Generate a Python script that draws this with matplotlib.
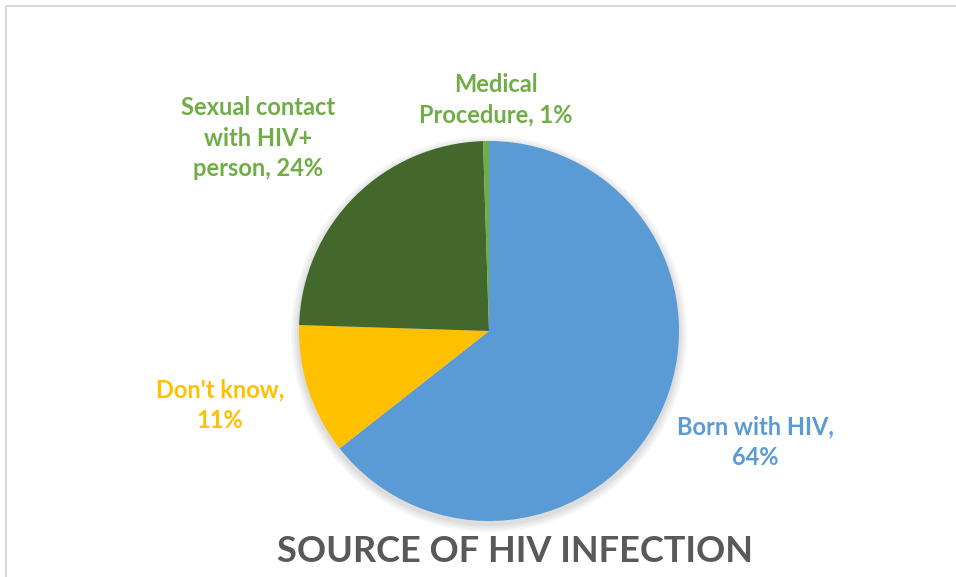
#!/usr/bin/env python

import matplotlib.pyplot as plt
from matplotlib.patches import Circle

# slice order: clockwise from 12 o'clock
sources = ["Born with HIV", "Don't know", "Sexual contact\nwith HIV+\nperson", "Medical\nProcedure"]
shares = [64.4, 11.1, 24.0, 0.5]
shown_pct = ["64%", "11%", "24%", "1%"]
slice_colors = ["#5B9BD5", "#FFC000", "#43682B", "#70AD47"]
label_colors = ["#5B9BD5", "#FFC000", "#70AD47", "#70AD47"]

W, H = 956, 577

plt.rcParams["font.family"] = ["Lato", "DejaVu Sans"]

fig = plt.figure(figsize=(W / 100, H / 100), dpi=100)
ax = fig.add_axes([0, 0, 1, 1])

cx, cy, r = 489, H - 331, 190

# soft shadow behind the pie
for i, a in enumerate([0.03, 0.03, 0.03, 0.04]):
    ax.add_patch(Circle((cx, cy - 3), r + 8 - i * 2, color="#000000", alpha=a, lw=0, zorder=0))

ax.pie(
    shares,
    colors=slice_colors,
    startangle=90,
    counterclock=False,
    center=(cx, cy),
    radius=r,
    wedgeprops={"linewidth": 0},
    frame=True,
)

# data labels (positions in pixels from top-left)
label_pos = [(755, 442), (220, 405), (258, 138), (496, 100)]
for name, pct, col, (x, y) in zip(sources, shown_pct, label_colors, label_pos):
    if name in ("Born with HIV", "Don't know"):
        txt = f"{name},\n{pct}"
    else:
        txt = f"{name}, {pct}"
    ax.text(x, H - y, txt, color=col, fontsize=17, fontweight="bold",
            ha="center", va="center", linespacing=1.4)

ax.text(515, H - 552, "SOURCE OF HIV INFECTION", color="#595959", fontsize=26,
        fontweight="bold", ha="center", va="center")

# chart area border (only top and left edges visible)
ax.plot([6.5, 6.5], [-10, H - 5.5], color="#D9D9D9", lw=1.5, solid_capstyle="butt")
ax.plot([6.5, W + 10], [H - 5.5, H - 5.5], color="#D9D9D9", lw=1.5, solid_capstyle="butt")

ax.set_xlim(0, W)
ax.set_ylim(0, H)
ax.set_aspect("equal")
ax.axis("off")

fig.savefig("out.png", dpi=100)
